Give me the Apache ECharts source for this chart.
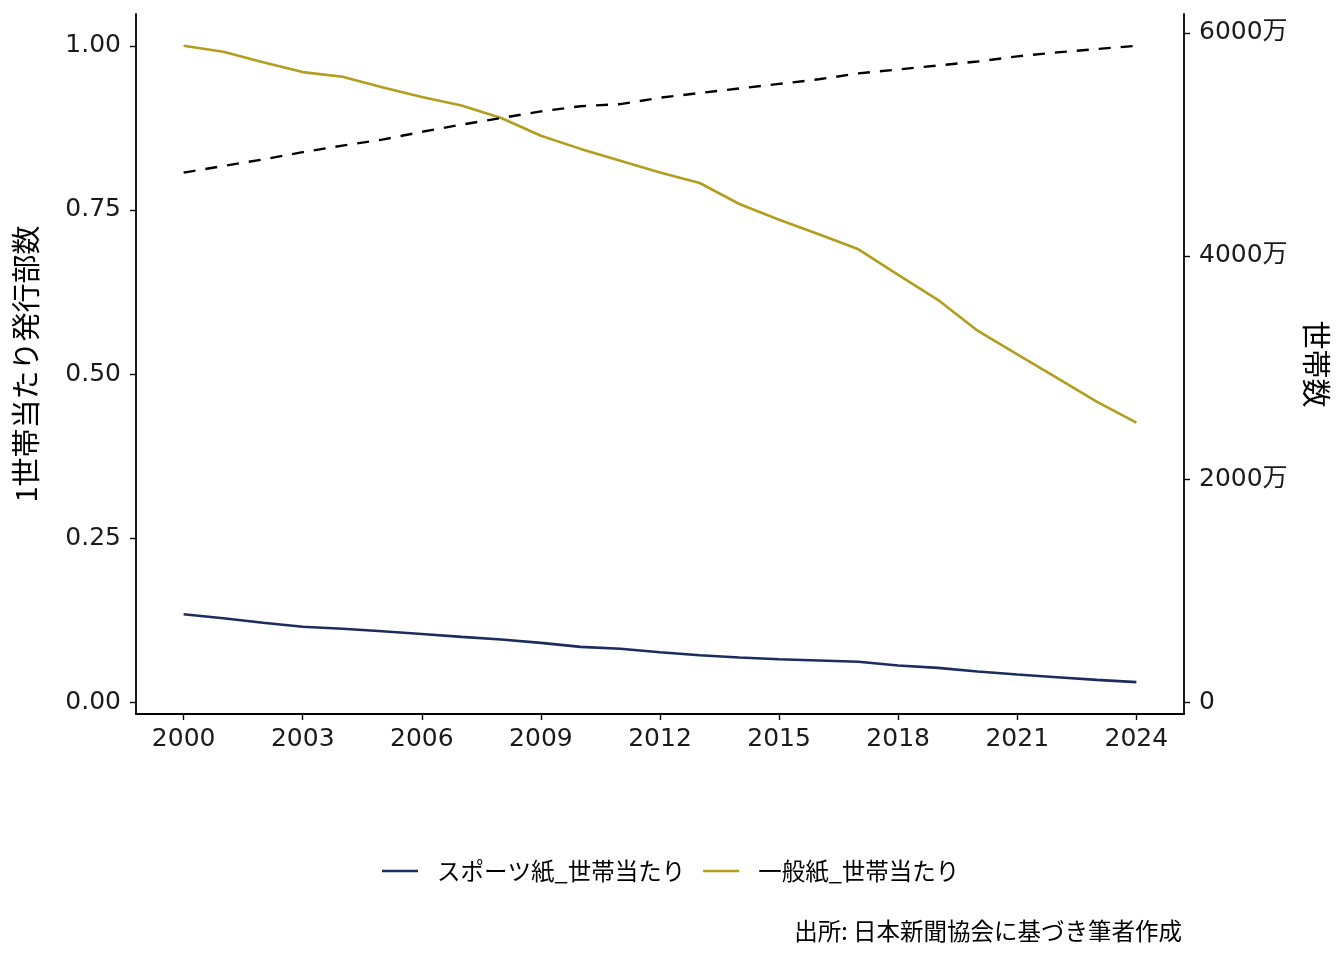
<!DOCTYPE html>
<html>
<head>
<meta charset="utf-8">
<script src="https://cdn.jsdelivr.net/npm/echarts@6/dist/echarts.min.js"></script>
<style>
html,body{margin:0;padding:0;background:#fff;}
#chart{width:1344px;height:960px;}
</style>
</head>
<body>
<div id="chart"></div>
<script>
// ---- data ----
const years = [2000,2001,2002,2003,2004,2005,2006,2007,2008,2009,2010,2011,2012,2013,2014,2015,2016,2017,2018,2019,2020,2021,2022,2023,2024];
// 一般紙 1世帯当たり発行部数
const generalPerHH = [1.000,0.991,0.975,0.960,0.953,0.937,0.922,0.909,0.890,0.863,0.843,0.825,0.807,0.791,0.759,0.735,0.713,0.690,0.651,0.613,0.566,0.530,0.494,0.458,0.426];
// スポーツ紙 1世帯当たり発行部数
const sportsPerHH = [0.134,0.128,0.121,0.115,0.112,0.108,0.104,0.0995,0.0955,0.0904,0.0843,0.0813,0.0762,0.0716,0.068,0.0655,0.0635,0.0615,0.056,0.0523,0.0468,0.0422,0.0381,0.034,0.0305];
// 世帯数 (万)
const households = [4747,4806,4865,4930,4989,5042,5112,5177,5236,5295,5342,5360,5418,5460,5501,5542,5583,5636,5671,5707,5742,5789,5824,5854,5883];
const xTicks = [2000,2003,2006,2009,2012,2015,2018,2021,2024];
const leftTicks = [0,0.25,0.5,0.75,1.0];
const rightTicks = [0,2000,4000,6000];
const seriesNames = ['スポーツ紙_世帯当たり','一般紙_世帯当たり','世帯数'];

// scale relation: right axis = left axis * households max
const k = Math.max(...households);
const leftMin = -0.018, leftMax = 1.0485;

const FONT = '"Noto Sans CJK JP","Noto Sans",sans-serif';
const NUMFONT = '"DejaVu Sans","Noto Sans CJK JP",sans-serif';
const chart = echarts.init(document.getElementById('chart'), null, {renderer:'canvas'});
const axisLineStyle = {color:'#000', width:1.8};
const tickStyle = {color:'#000', width:1.4};

chart.setOption({
  animation:false,
  backgroundColor:'#fff',
  textStyle:{fontFamily:FONT},
  grid:{left:136, right:160, top:14, bottom:246, containLabel:false},
  title:{
    text:'出所: 日本新聞協会に基づき筆者作成',
    right:162, top:919, padding:0,
    textStyle:{fontFamily:FONT, fontSize:23.5, fontWeight:'normal', color:'#000'}
  },
  legend:{
    data:[seriesNames[0], seriesNames[1]],
    left:382, top:856, padding:0,
    icon:'rect', itemWidth:36, itemHeight:2.5, itemGap:18,
    textStyle:{fontFamily:FONT, fontSize:23.5, color:'#000', padding:[0,0,0,14], lineHeight:30}
  },
  xAxis:{
    type:'value', min:1998.8, max:2025.2,
    axisLine:{show:true, onZero:false, lineStyle:axisLineStyle},
    axisTick:{show:true, customValues:xTicks, length:6, inside:false, lineStyle:tickStyle},
    axisLabel:{customValues:xTicks, margin:13, fontSize:25, color:'#1a1a1a', fontFamily:NUMFONT, formatter:v=>String(v)},
    splitLine:{show:false}
  },
  yAxis:[
    {
      type:'value', min:leftMin, max:leftMax, position:'left',
      name:'1世帯当たり発行部数', nameLocation:'middle', nameGap:96, nameRotate:90,
      nameTextStyle:{fontFamily:FONT, fontSize:29, color:'#000'},
      axisLine:{show:true, onZero:false, lineStyle:axisLineStyle},
      axisTick:{show:true, customValues:leftTicks, length:6, lineStyle:tickStyle},
      axisLabel:{customValues:leftTicks, margin:15, fontSize:25, color:'#1a1a1a', fontFamily:NUMFONT, padding:[7,0,0,0], formatter:v=>v.toFixed(2)},
      splitLine:{show:false}
    },
    {
      type:'value', min:leftMin*k, max:leftMax*k, position:'right',
      name:'世帯数', nameLocation:'middle', nameGap:118, nameRotate:-90,
      nameTextStyle:{fontFamily:FONT, fontSize:29, color:'#000'},
      axisLine:{show:true, onZero:false, lineStyle:axisLineStyle},
      axisTick:{show:true, customValues:rightTicks, length:6, lineStyle:tickStyle},
      axisLabel:{customValues:rightTicks, margin:15, fontSize:25, color:'#1a1a1a', fontFamily:NUMFONT, padding:[7,0,0,0], formatter:v=>v===0?'0':v+'万'},
      splitLine:{show:false}
    }
  ],
  series:[
    {
      name:seriesNames[0], type:'line', yAxisIndex:0, showSymbol:false, symbol:'none',
      data:years.map((y,i)=>[y,sportsPerHH[i]]),
      lineStyle:{color:'#1B2D5E', width:2.6}, itemStyle:{color:'#1B2D5E'}
    },
    {
      name:seriesNames[1], type:'line', yAxisIndex:0, showSymbol:false, symbol:'none',
      data:years.map((y,i)=>[y,generalPerHH[i]]),
      lineStyle:{color:'#B29E1E', width:2.6}, itemStyle:{color:'#B29E1E'}
    },
    {
      name:seriesNames[2], type:'line', yAxisIndex:1, showSymbol:false, symbol:'none',
      data:years.map((y,i)=>[y,households[i]]),
      lineStyle:{color:'#000', width:2.4, type:[12,10]}, itemStyle:{color:'#000'}
    }
  ]
});
</script>
</body>
</html>
